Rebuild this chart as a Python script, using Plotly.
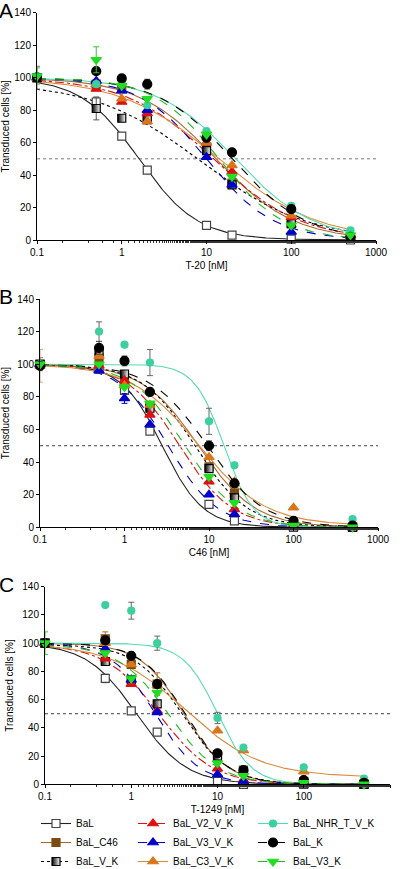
import numpy as np
import plotly.graph_objects as go

# ---------------- data ----------------
conc = [0.1, 0.5, 1, 2, 10, 20, 100, 500]
series = ["BaL", "BaL_C46", "BaL_V_K", "BaL_V2_V_K", "BaL_V3_V_K",
          "BaL_C3_V_K", "BaL_NHR_T_V_K", "BaL_K", "BaL_V3_K"]

# Panel A : T-20
t20_BaL = [100, 85, 64, 43, 9, 3, 0.5, 0]
t20_BaL_C46 = [100, 96, 93, 74, 57, 35, 10, 1]
t20_BaL_V_K = [100, 81, 75, 75, 55, 34, 10, 1]
t20_BaL_V2_V_K = [100, 93, 85, 78, 60, 42, 14, 3]
t20_BaL_V3_V_K = [100, 98, 92, 80, 51, 34, 5, 1]
t20_BaL_C3_V_K = [100, 96, 87, 73, 60, 46, 15, 2]
t20_BaL_NHR_T_V_K = [101, 96, 97, 83, 67, 54, 21, 6]
t20_BaL_K = [100, 104, 99.5, 96, 63, 54, 19, 2]
t20_BaL_V3_K = [101, 111, 95, 87, 65, 39, 9, 3]
t20_err_BaL = [7, 3, 0, 0, 0, 0, 0, 0]
t20_err_V_K = [0, 7, 0, 0, 0, 0, 0, 0]
t20_err_K = [0, 0, 0, 3, 3, 0, 0, 0]
t20_err_V3_K = [5, 8, 0, 0, 0, 0, 0, 0]
t20_ic50 = [1.6, 13, 8.5, 12, 10, 14, 22, 20, 14]
t20_hill = [1.26, 0.95, 0.7, 0.85, 1.1, 0.75, 0.95, 1.0, 1.15]
t20_top = [100, 100, 97, 100, 100, 100, 100, 100, 100]
t20_bottom = [0, 0, 0, 0, 0, 0, 0, 0, 0]

# Panel B : C46
c46_BaL = [100, 97, 84, 59, 14, 4, 0, 0]
c46_BaL_C46 = [100, 104, 90, 74, 37, 21, 1, 0]
c46_BaL_V_K = [100, 108, 94, 73, 36, 18, 2, 0]
c46_BaL_V2_V_K = [100, 99, 90, 69, 28, 11, 1, 0]
c46_BaL_V3_V_K = [100, 96, 79, 63, 20, 8, 0, 0]
c46_BaL_C3_V_K = [99, 105, 87, 75, 43, 28, 12, 1]
c46_BaL_NHR_T_V_K = [100, 120, 112, 101, 65, 38, 2, 5]
c46_BaL_K = [99, 110, 102, 83, 50, 27, 4, 1]
c46_BaL_V3_K = [100, 100, 86, 76, 31, 15, 1, 0]
c46_err_BaL = [4, 0, 0, 0, 0, 0, 0, 0]
c46_err_C3 = [10, 0, 0, 0, 0, 0, 0, 0]
c46_err_NHR = [0, 6, 0, 8, 8, 0, 0, 0]
c46_err_K = [0, 4, 3, 0, 3, 0, 0, 0]
c46_err_V3_V_K = [0, 0, 3, 0, 0, 0, 0, 0]
c46_err_C46 = [0, 0, 0, 0, 0, 3, 0, 0]
c46_ic50 = [2.8, 7.5, 6.8, 4.5, 3.3, 7.5, 15, 9.5, 5.2]
c46_hill = [1.8, 1.3, 1.4, 1.4, 1.5, 1.1, 2.5, 1.3, 1.4]
c46_top = [100, 100, 100, 100, 100, 100, 100, 100, 100]
c46_bottom = [0, 0, 0, 0, 0, 1, 0, 0, 0]

# Panel C : T-1249
t1249_BaL = [100, 75, 52, 37, 2, 0, 0, 0]
t1249_BaL_C46 = [100, 103, 85, 71, 21, 10, 2, 0]
t1249_BaL_V_K = [100, 87, 74, 57, 20, 9, 1, 0]
t1249_BaL_V2_V_K = [100, 89, 71, 52, 11, 3, 0, 0]
t1249_BaL_V3_V_K = [100, 96, 74, 51, 7, 2, 0, 0]
t1249_BaL_C3_V_K = [100, 100, 85, 70, 38, 24, 9, 1]
t1249_BaL_NHR_T_V_K = [100, 127, 123, 100, 47, 26, 12, 4]
t1249_BaL_K = [100, 102, 91, 71, 22, 10, 3, 1]
t1249_BaL_V3_K = [100, 93, 75, 65, 15, 6, 1, 0]
t1249_err_BaL = [0, 3, 0, 0, 0, 0, 0, 0]
t1249_err_C46 = [0, 5, 0, 8, 0, 0, 0, 0]
t1249_err_NHR = [0, 0, 6, 5, 4, 0, 0, 0]
t1249_err_V3_K = [8, 0, 0, 0, 0, 0, 0, 0]
t1249_ic50 = [1.15, 4.1, 3.9, 2.1, 1.9, 4.3, 10, 4.2, 2.7]
t1249_hill = [1.5, 1.7, 1.6, 1.4, 1.7, 1.0, 2.2, 1.7, 1.5]
t1249_top = [100, 100, 99, 99, 100, 100, 100, 100, 99]
t1249_bottom = [0, 0, 0, 0, 0, 5, 0, 0, 0]

x_titles = ["T-20 [nM]", "C46 [nM]", "T-1249 [nM]"]
panel_letters = ["A", "B", "C"]
y_title = "Transduced cells [%]"
x_tickvals = [0.1, 1, 10, 100, 1000]
x_ticktext = ["0.1", "1", "10", "100", "1000"]

# ---------------- assemble ----------------
zeros = [0] * 8
panels = [
    dict(vals=[t20_BaL, t20_BaL_C46, t20_BaL_V_K, t20_BaL_V2_V_K, t20_BaL_V3_V_K,
               t20_BaL_C3_V_K, t20_BaL_NHR_T_V_K, t20_BaL_K, t20_BaL_V3_K],
         errs=[t20_err_BaL, zeros, t20_err_V_K, zeros, zeros, zeros, zeros, t20_err_K, t20_err_V3_K],
         ic50=t20_ic50, hill=t20_hill, top=t20_top, bottom=t20_bottom),
    dict(vals=[c46_BaL, c46_BaL_C46, c46_BaL_V_K, c46_BaL_V2_V_K, c46_BaL_V3_V_K,
               c46_BaL_C3_V_K, c46_BaL_NHR_T_V_K, c46_BaL_K, c46_BaL_V3_K],
         errs=[c46_err_BaL, c46_err_C46, zeros, zeros, c46_err_V3_V_K, c46_err_C3, c46_err_NHR, c46_err_K, zeros],
         ic50=c46_ic50, hill=c46_hill, top=c46_top, bottom=c46_bottom),
    dict(vals=[t1249_BaL, t1249_BaL_C46, t1249_BaL_V_K, t1249_BaL_V2_V_K, t1249_BaL_V3_V_K,
               t1249_BaL_C3_V_K, t1249_BaL_NHR_T_V_K, t1249_BaL_K, t1249_BaL_V3_K],
         errs=[t1249_err_BaL, t1249_err_C46, zeros, zeros, zeros, zeros, t1249_err_NHR, zeros, t1249_err_V3_K],
         ic50=t1249_ic50, hill=t1249_hill, top=t1249_top, bottom=t1249_bottom),
]

styles = [
    dict(lc="#222222", dash="solid", sym="square", mc="white", ml="#444444", size=8, ec="#777777"),
    dict(lc="#a86a34", dash="solid", sym="square", mc="#7a4b12", ml="#7a4b12", size=8, ec="#a86a34"),
    dict(lc="#000000", dash="dot", sym="square", mc="#000000", ml="#000000", size=8, ec="#555555", grad=True),
    dict(lc="#dd1111", dash="dashdot", sym="triangle-up", mc="#dd1111", ml="#dd1111", size=9, ec="#dd1111"),
    dict(lc="#0000cc", dash="dash", sym="triangle-up", mc="#0000cc", ml="#0000cc", size=9, ec="#0000cc"),
    dict(lc="#dd8a3a", dash="solid", sym="triangle-up", mc="#d9761c", ml="#d9761c", size=9, ec="#e8a070"),
    dict(lc="#55dbb0", dash="solid", sym="circle", mc="#3dcf9c", ml="#3dcf9c", size=7, ec="#666666"),
    dict(lc="#000000", dash="dash", sym="circle", mc="#000000", ml="#000000", size=9, ec="#555555"),
    dict(lc="#22bb22", dash="dash", sym="triangle-down", mc="#22dd22", ml="#22dd22", size=9, ec="#33cc33"),
]

font_family = "Liberation Sans, Arial, sans-serif"
H = 869.0
W = 400.0
geo = [(37, 376, 12.7, 240), (40, 378, 299, 527.3), (45, 390, 586.7, 784.3)]

fig = go.Figure()

xs_curve = np.logspace(-1, np.log10(500), 240)

for p, (panel, g) in enumerate(zip(panels, geo)):
    xa = "x" if p == 0 else f"x{p+1}"
    ya = "y" if p == 0 else f"y{p+1}"
    for i, st in enumerate(styles):
        top, bot, ic, h = panel["top"][i], panel["bottom"][i], panel["ic50"][i], panel["hill"][i]
        yc = bot + (top - bot) / (1 + (xs_curve / ic) ** h)
        fig.add_trace(go.Scatter(x=xs_curve, y=yc, mode="lines", xaxis=xa, yaxis=ya,
                                 line=dict(color=st["lc"], width=1.1, dash=st["dash"]),
                                 showlegend=False, hoverinfo="skip"))
    for i, st in enumerate(styles):
        marker = dict(symbol=st["sym"], color=st["mc"], size=st["size"],
                      line=dict(color=st["ml"], width=1.2))
        if st.get("grad"):
            marker["gradient"] = dict(type="horizontal", color="white")
        fig.add_trace(go.Scatter(x=conc, y=panel["vals"][i], mode="markers", xaxis=xa, yaxis=ya,
                                 marker=marker, cliponaxis=False, showlegend=False,
                                 error_y=dict(type="data", array=panel["errs"][i], visible=True,
                                              color=st["ec"], thickness=1, width=3)))

    l, r, t, b = g
    xdom = [l / W, r / W]
    ydom = [1 - b / H, 1 - t / H]
    axis_x = dict(type="log", range=[-1, 3], domain=xdom, anchor=ya, automargin=False,
                  tickvals=x_tickvals, ticktext=x_ticktext, ticks="outside", ticklen=3,
                  tickcolor="black", showline=True, linecolor="black", linewidth=1,
                  showgrid=False, zeroline=False,
                  minor=dict(ticks="outside", ticklen=2, tickcolor="#333333", showgrid=False),
                  tickfont=dict(size=10, color="black", family=font_family),
                  title=dict(text=x_titles[p], font=dict(size=10, color="black", family=font_family),
                             standoff=4))
    axis_y = dict(range=[0, 140], domain=ydom, anchor=xa, dtick=20, ticks="outside",
                  automargin=False,
                  ticklen=3, tickcolor="black", showline=True, linecolor="black", linewidth=1,
                  showgrid=False, zeroline=False,
                  tickfont=dict(size=10, color="black", family=font_family),
                  title=dict(text=y_title, font=dict(size=10, color="black", family=font_family),
                             standoff=6))
    key_x = "xaxis" if p == 0 else f"xaxis{p+1}"
    key_y = "yaxis" if p == 0 else f"yaxis{p+1}"
    fig.update_layout(**{key_x: axis_x, key_y: axis_y})

    fig.add_shape(type="line", xref=f"{xa} domain", yref=ya, x0=0, x1=1, y0=50, y1=50,
                  line=dict(color="#777777" if p == 0 else "#444444", width=1, dash="dot"),
                  layer="below")
    fig.add_annotation(text=panel_letters[p], xref="paper", yref="paper",
                       x=-3 / W, y=1 - (t - 16) / H, xanchor="left", yanchor="top",
                       showarrow=False, font=dict(size=21, color="black", family=font_family))

# legend: three columns, one legend per column
legend_cols = [[0, 1, 2], [3, 4, 5], [6, 7, 8]]
legend_names = ["legend", "legend2", "legend3"]
legend_x_px = [36, 133, 253]
for col, lname in zip(legend_cols, legend_names):
    for i in col:
        st = styles[i]
        marker = dict(symbol=st["sym"], color=st["mc"], size=st["size"],
                      line=dict(color=st["ml"], width=1.2))
        if st.get("grad"):
            marker["gradient"] = dict(type="horizontal", color="white")
        fig.add_trace(go.Scatter(x=[None], y=[None], mode="lines+markers", name=series[i],
                                 line=dict(color=st["lc"], width=1.1, dash=st["dash"]),
                                 marker=marker, showlegend=True, legend=lname))

legend_common = dict(orientation="v", yanchor="top", xanchor="left", itemwidth=30,
                     font=dict(size=10, family=font_family, color="black"),
                     bgcolor="rgba(0,0,0,0)", traceorder="normal", tracegroupgap=0)
legend_layout = {}
for lname, lx in zip(legend_names, legend_x_px):
    legend_layout[lname] = dict(x=lx / W, y=1 - 809 / H, **legend_common)

fig.update_layout(
    width=400, height=869,
    margin=dict(l=0, r=0, t=0, b=0, autoexpand=False),
    paper_bgcolor="white", plot_bgcolor="white",
    font=dict(family=font_family, size=10, color="black"),
    showlegend=True,
    **legend_layout,
)

fig.write_html("out.html", config={"displayModeBar": False},
               post_script="document.body.style.margin='0';document.body.style.padding='0';")
